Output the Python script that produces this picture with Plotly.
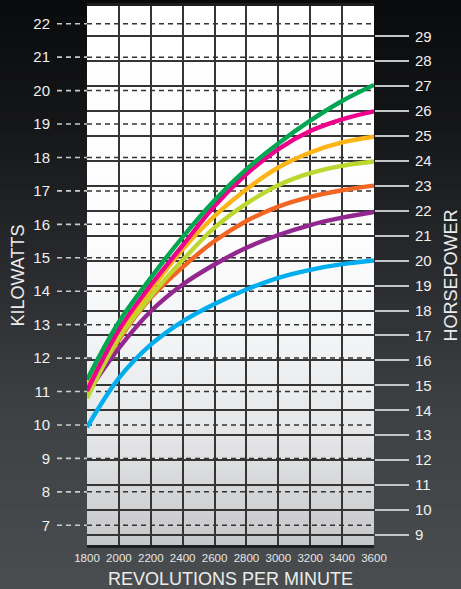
import plotly.graph_objects as go

# ---------------- data ----------------
rpm = [1800, 2000, 2200, 2400, 2600, 2800, 3000, 3200, 3400, 3600]
green_kw = [11.35, 13.08, 14.40, 15.62, 16.72, 17.65, 18.42, 19.10, 19.69, 20.17]
pink_kw = [11.02, 12.84, 14.18, 15.37, 16.55, 17.50, 18.25, 18.79, 19.14, 19.38]
amber_kw = [11.15, 12.80, 14.05, 15.25, 16.25, 17.05, 17.70, 18.15, 18.45, 18.62]
lime_kw = [10.80, 12.60, 13.85, 14.93, 15.90, 16.62, 17.17, 17.53, 17.75, 17.88]
orange_kw = [10.95, 12.55, 13.80, 14.72, 15.50, 16.10, 16.53, 16.82, 17.02, 17.16]
purple_kw = [10.95, 12.30, 13.40, 14.20, 14.80, 15.30, 15.68, 15.98, 16.20, 16.37]
blue_kw = [9.93, 11.40, 12.40, 13.10, 13.62, 14.05, 14.40, 14.64, 14.81, 14.92]

kw_ticks = list(range(7, 23))
hp_ticks = list(range(9, 30))
rpm_ticks = list(range(1800, 3601, 200))

KW_PER_HP = 0.7457
kw_range = [6.41, 22.53]
hp_range = [kw_range[0] / KW_PER_HP, kw_range[1] / KW_PER_HP]

series = [
    ("blue", blue_kw, "#00aeef"),
    ("purple", purple_kw, "#92278f"),
    ("orange", orange_kw, "#f26522"),
    ("lime", lime_kw, "#bed630"),
    ("amber", amber_kw, "#fdb515"),
    ("pink", pink_kw, "#ec008c"),
    ("green", green_kw, "#00a651"),
]

W, H = 461, 589
ML, MR, MT, MB = 87, 87, 6, 44
PW, PH = W - ML - MR, H - MT - MB

fig = go.Figure()
for name, vals, col in series:
    fig.add_trace(go.Scatter(
        x=rpm, y=vals, mode="lines", name=name,
        line=dict(color=col, width=4.4, shape="spline", smoothing=1.0),
        xaxis="x", yaxis="y", showlegend=False, hoverinfo="skip"))

# invisible trace to activate the horsepower axis
fig.add_trace(go.Scatter(x=[rpm[0]], y=[hp_ticks[0]], mode="markers",
                         marker=dict(opacity=0), xaxis="x", yaxis="y2",
                         showlegend=False, hoverinfo="skip"))


def mix(c1, c2, t):
    return "rgb(%d,%d,%d)" % tuple(round(a + (b - a) * t) for a, b in zip(c1, c2))


def grad(stops, f):
    for i in range(len(stops) - 1):
        f0, c0 = stops[i]
        f1, c1 = stops[i + 1]
        if f0 <= f <= f1:
            return mix(c0, c1, (f - f0) / (f1 - f0) if f1 > f0 else 0)
    return mix(stops[-1][1], stops[-1][1], 0)


shapes = []
# figure background gradient (pixel fraction from top)
bg_stops = [(0.0, (9, 10, 11)), (0.2, (20, 21, 23)), (0.45, (40, 42, 45)),
            (0.7, (62, 65, 68)), (1.0, (74, 77, 80))]
NB = 118
for i in range(NB):
    p0 = H * i / NB
    p1 = H * (i + 1) / NB + 0.6
    shapes.append(dict(type="rect", xref="paper", yref="paper", layer="below",
                       x0=-0.5, x1=1.5, y0=(H - MB - p1) / PH, y1=(H - MB - p0) / PH,
                       line=dict(width=0), fillcolor=grad(bg_stops, (p0 + p1) / 2 / H)))
# plot area gradient (fraction from top of plot)
pl_stops = [(0.0, (255, 255, 255)), (0.42, (253, 253, 253)), (0.6, (244, 245, 246)),
            (0.8, (228, 229, 230)), (1.0, (198, 199, 201))]
NP = 90
for i in range(NP):
    f0 = i / NP
    f1 = (i + 1) / NP
    shapes.append(dict(type="rect", xref="paper", yref="paper", layer="below",
                       x0=0, x1=1, y0=1 - f1 - 0.002, y1=1 - f0,
                       line=dict(width=0), fillcolor=grad(pl_stops, (f0 + f1) / 2)))

# dashed kW grid lines inside plot and dashed tick marks outside
for k in kw_ticks:
    shapes.append(dict(type="line", xref="paper", yref="y", layer="below",
                       x0=-30 / PW, x1=0, y0=k, y1=k,
                       line=dict(color="#c9cacb", width=1.6, dash="5px,4px")))
    shapes.append(dict(type="line", xref="paper", yref="y", layer="between",
                       x0=0, x1=1, y0=k, y1=k,
                       line=dict(color="#333333", width=1.5, dash="5px,4px")))

fig.update_layout(
    width=W, height=H,
    margin=dict(l=ML, r=MR, t=MT, b=MB, pad=0),
    paper_bgcolor="#2a2c2e", plot_bgcolor="rgba(0,0,0,0)",
    font=dict(family="Liberation Sans, Arial, sans-serif", color="#ececec"),
    shapes=shapes,
    xaxis=dict(range=[rpm_ticks[0], rpm_ticks[-1]], tickvals=rpm_ticks,
               showgrid=True, gridcolor="#353535", gridwidth=1.7,
               showline=True, linecolor="#1e1e1e", linewidth=2.5, mirror=True,
               ticks="", tickfont=dict(size=11.5, color="#e6e6e6"),
               title=dict(text="REVOLUTIONS PER MINUTE", font=dict(size=18, color="#ececec"),
                          standoff=16),
               zeroline=False, automargin=False, fixedrange=True),
    yaxis=dict(range=kw_range, tickvals=kw_ticks, showgrid=False,
               showline=False, ticks="outside", ticklen=33, tickcolor="rgba(0,0,0,0)",
               tickfont=dict(size=15, color="#f0f0f0"),
               title=dict(text="KILOWATTS", font=dict(size=18, color="#ececec"), standoff=4),
               zeroline=False, automargin=False, fixedrange=True),
    yaxis2=dict(range=hp_range, tickvals=hp_ticks, overlaying="y", side="right",
                anchor="x", showgrid=True, gridcolor="#353535", gridwidth=1.7,
                showline=False, ticks="outside", ticklen=34, tickwidth=1.5,
                tickcolor="#c4c5c6", tickfont=dict(size=15, color="#f0f0f0"),
                ticklabelstandoff=3,
                title=dict(text="HORSEPOWER", font=dict(size=18, color="#ececec"), standoff=16),
                zeroline=False, automargin=False, fixedrange=True),
)

fig.write_html("out.html", config={"displayModeBar": False},
               post_script="document.body.style.margin='0';")
